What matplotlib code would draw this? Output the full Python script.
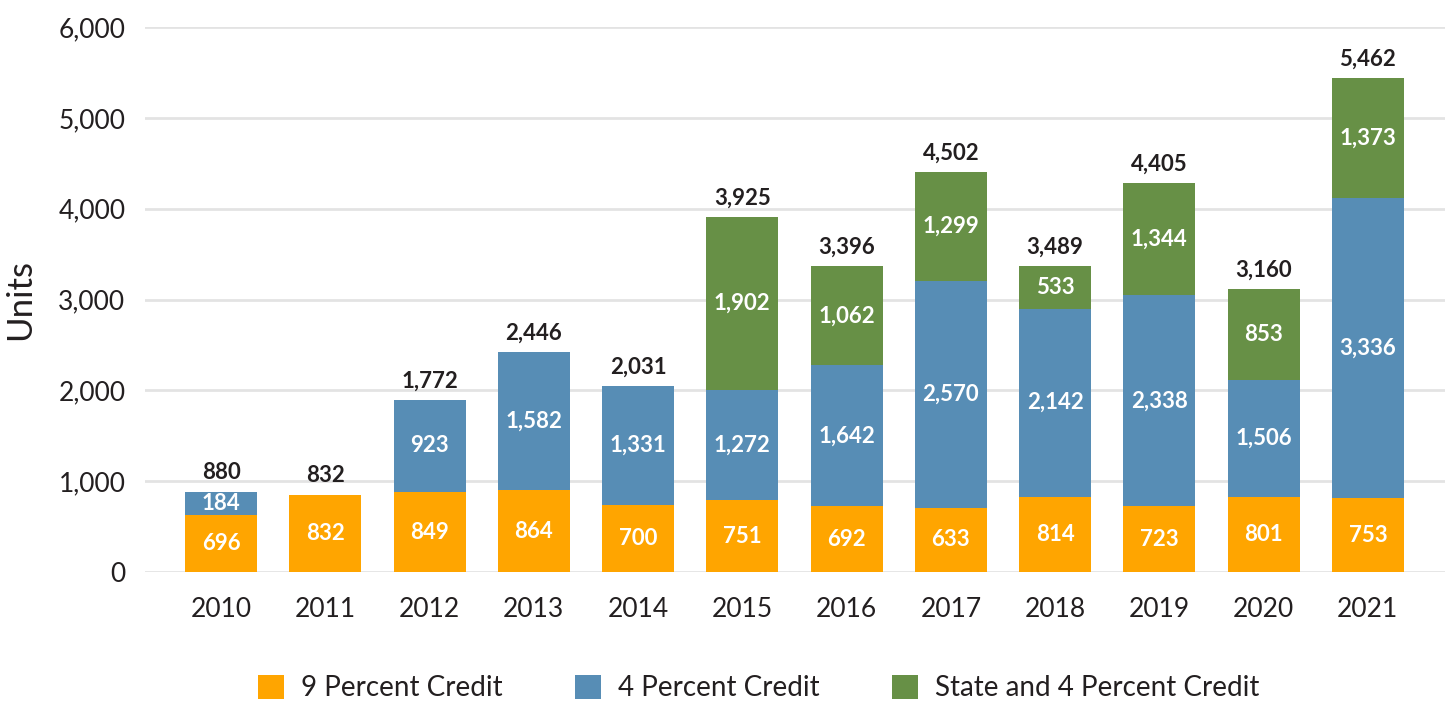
import matplotlib
matplotlib.use("Agg")
import matplotlib.pyplot as plt
import numpy as np

plt.rcParams["font.family"] = ["Lato", "DejaVu Sans"]

years = ["2010", "2011", "2012", "2013", "2014", "2015",
         "2016", "2017", "2018", "2019", "2020", "2021"]

# segment heights as drawn in the chart
nine_h = [626, 852, 877, 898, 743, 789, 722, 710, 831, 722, 831, 810]
four_h = [260, 0, 1021, 1524, 1307, 1218, 1554, 2493, 2066, 2326, 1285, 3304]
state_h = [0, 0, 0, 0, 0, 1898, 1091, 1205, 470, 1230, 999, 1327]

# printed data labels
nine_lbl = [696, 832, 849, 864, 700, 751, 692, 633, 814, 723, 801, 753]
four_lbl = [184, None, 923, 1582, 1331, 1272, 1642, 2570, 2142, 2338, 1506, 3336]
state_lbl = [None, None, None, None, None, 1902, 1062, 1299, 533, 1344, 853, 1373]
total_lbl = [880, 832, 1772, 2446, 2031, 3925, 3396, 4502, 3489, 4405, 3160, 5462]

series = ["9 Percent Credit", "4 Percent Credit", "State and 4 Percent Credit"]
colors = ["#FFA500", "#578DB5", "#679046"]

fig = plt.figure(figsize=(14.45, 7.02), dpi=100)
ax = fig.add_axes([0.1003, 0.1852, 0.8997, 0.7763])

x = np.arange(len(years))
w = 0.69
bottom = np.zeros(len(years))
for h, lbl, name, col in zip([nine_h, four_h, state_h],
                             [nine_lbl, four_lbl, state_lbl], series, colors):
    h = np.array(h, dtype=float)
    ax.bar(x, h, w, bottom=bottom, color=col, label=name, zorder=3)
    for i in range(len(years)):
        if lbl[i] is None:
            continue
        ax.text(x[i], bottom[i] + h[i] / 2, f"{lbl[i]:,}", ha="center", va="center",
                color="white", fontsize=16, fontweight="bold", zorder=4)
    bottom += h

for i in range(len(years)):
    ax.annotate(f"{total_lbl[i]:,}", (x[i], bottom[i]), xytext=(0, 6),
                textcoords="offset points", ha="center", va="bottom",
                fontsize=16, fontweight="bold", color="#231F20")

ax.set_ylim(0, 6000)
ax.set_xlim(-0.73, 11.74)
ax.set_yticks(np.arange(0, 6001, 1000))
ax.set_yticklabels([f"{v:,}" for v in range(0, 6001, 1000)])
ax.set_xticks(x)
ax.set_xticklabels(years)
ax.tick_params(axis="both", length=0, labelsize=19, colors="#231F20")
ax.tick_params(axis="y", pad=14)
ax.tick_params(axis="x", pad=18)
ax.grid(axis="y", color="#E3E3E3", linewidth=2, zorder=0)
ax.set_axisbelow(True)
for s in ax.spines.values():
    s.set_visible(False)
ax.set_ylabel("Units", fontsize=25, color="#231F20", labelpad=16)

fig.legend(loc="center", bbox_to_anchor=(0.525, 0.02), ncol=3, frameon=False,
           fontsize=20, handlelength=0.95, handleheight=0.95, columnspacing=2.6,
           handletextpad=0.6, labelcolor="#231F20")

fig.savefig("out.png", dpi=100)
